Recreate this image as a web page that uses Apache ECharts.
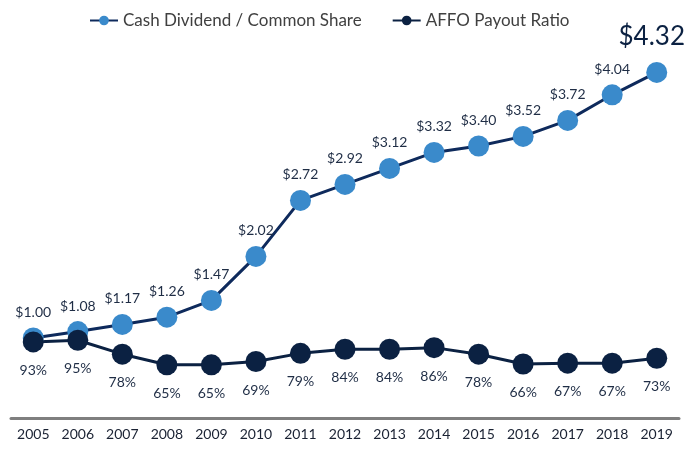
<!DOCTYPE html>
<html>
<head>
<meta charset="utf-8">
<script src="https://cdn.jsdelivr.net/npm/echarts@6/dist/echarts.min.js"></script>
<style>
  html, body { margin: 0; padding: 0; background: #fff; }
  #main { width: 691px; height: 449px; }
</style>
</head>
<body>
<div id="main"></div>
<script>
// chart data
var years = ['2005', '2006', '2007', '2008', '2009', '2010', '2011', '2012', '2013', '2014', '2015', '2016', '2017', '2018', '2019'];
var dividend = [1.00, 1.08, 1.17, 1.26, 1.47, 2.02, 2.72, 2.92, 3.12, 3.32, 3.40, 3.52, 3.72, 4.04, 4.32];
var payout = [93, 95, 78, 65, 65, 69, 79, 84, 84, 86, 78, 66, 67, 67, 73];

var navy = '#0b2142';
var lightBlue = '#3a8acb';
var fontName = 'Lato';

var myChart = echarts.init(document.getElementById('main'));

// last dividend point gets the big label
var divData = dividend.map(function (v, i) {
    if (i == dividend.length - 1) {
        return {
            value: v,
            label: { fontSize: 26, color: navy, distance: 12, offset: [-5, 0] }
        };
    }
    return v;
});

var option = {
    animation: false,
    textStyle: { fontFamily: fontName },
    legend: {
        top: 7,
        left: 84,
        itemGap: 30,
        itemWidth: 28,
        itemHeight: 12,
        textStyle: { fontSize: 17, color: '#404040', fontFamily: fontName },
        data: ['Cash Dividend / Common Share', 'AFFO Payout Ratio']
    },
    grid: { left: 11, right: 12, top: 58, bottom: 31 },
    xAxis: {
        type: 'category',
        data: years,
        boundaryGap: true,
        axisLine: { lineStyle: { color: '#7f7f7f', width: 3 } },
        axisTick: { show: false },
        axisLabel: { color: '#1a2233', fontSize: 14, margin: 9, fontFamily: fontName }
    },
    yAxis: [
        { type: 'value', min: 0, max: 4.5, show: false, splitLine: { show: false } },
        { type: 'value', min: 0, max: 440, show: false, splitLine: { show: false } }
    ],
    series: [
        {
            name: 'Cash Dividend / Common Share',
            type: 'line',
            yAxisIndex: 0,
            data: divData,
            symbol: 'circle',
            symbolSize: 21,
            lineStyle: { color: '#0e2a5c', width: 3 },
            itemStyle: { color: lightBlue },
            label: {
                show: true,
                position: 'top',
                distance: 8,
                fontSize: 14,
                color: '#1f2d45',
                fontFamily: fontName,
                formatter: function (p) { return '$' + p.value.toFixed(2); }
            }
        },
        {
            name: 'AFFO Payout Ratio',
            type: 'line',
            yAxisIndex: 1,
            data: payout,
            symbol: 'circle',
            symbolSize: 21,
            lineStyle: { color: navy, width: 3 },
            itemStyle: { color: navy },
            label: {
                show: true,
                position: 'bottom',
                distance: 11,
                fontSize: 14,
                color: '#1f2d45',
                fontFamily: fontName,
                formatter: '{c}%'
            }
        }
    ]
};

myChart.setOption(option);
</script>
</body>
</html>
